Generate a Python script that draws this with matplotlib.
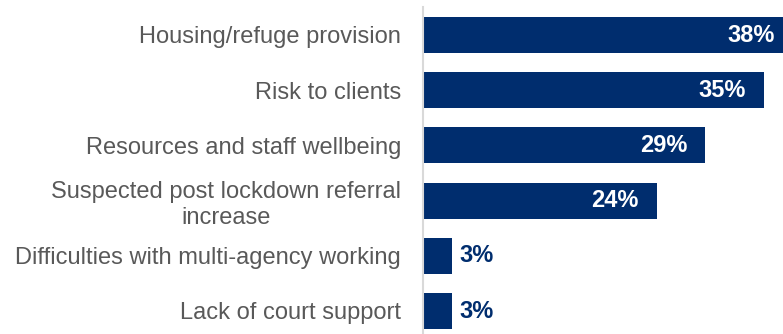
import matplotlib
matplotlib.use("Agg")
import matplotlib.pyplot as plt

categories = [
    "Housing/refuge provision",
    "Risk to clients",
    "Resources and staff wellbeing",
    "Suspected post lockdown referral\nincrease",
    "Difficulties with multi-agency working",
    "Lack of court support",
]
values = [38, 35, 29, 24, 3, 3]
value_labels = ["38%", "35%", "29%", "24%", "3%", "3%"]

NAVY = "#002D6E"
GREY = "#595959"
AXIS_GREY = "#D9D9D9"

plt.rcParams["font.family"] = ["Liberation Sans", "DejaVu Sans"]

W, H = 783, 334
fig = plt.figure(figsize=(W / 100, H / 100), dpi=100)

# axes placed in pixel terms: left edge of bars, row pitch and scale
left_px, px_per_unit = 422.5, 9.75
xmax = 40
top_px, bottom_px = 7.4, 338.6
ax = fig.add_axes([left_px / W, (H - bottom_px) / H,
                   xmax * px_per_unit / W, (bottom_px - top_px) / H])

ypos = list(range(len(categories)))
ax.barh(ypos, values, height=0.65, color=NAVY, zorder=2)

ax.set_xlim(0, xmax)
ax.set_ylim(len(categories) - 0.5, -0.5)

for sp in ["top", "right", "bottom"]:
    ax.spines[sp].set_visible(False)
ax.spines["left"].set_color(AXIS_GREY)
ax.spines["left"].set_linewidth(1.5)
ax.set_xticks([])
ax.set_yticks(ypos)
ax.set_yticklabels(categories, fontsize=17, color=GREY, linespacing=1.2)
ax.tick_params(axis="y", length=0, pad=15.5)
for lbl in ax.get_yticklabels():
    lbl.set_multialignment("center")

for y, v, t in zip(ypos, values, value_labels):
    if v >= 10:
        ax.annotate(t, (v, y), xytext=(-18 * 0.72, 0), textcoords="offset points",
                    ha="right", va="center", color="white",
                    fontsize=17, fontweight="bold")
    else:
        ax.annotate(t, (v, y), xytext=(8 * 0.72, 0), textcoords="offset points",
                    ha="left", va="center", color=NAVY,
                    fontsize=17, fontweight="bold")

fig.savefig("out.png", dpi=100)
